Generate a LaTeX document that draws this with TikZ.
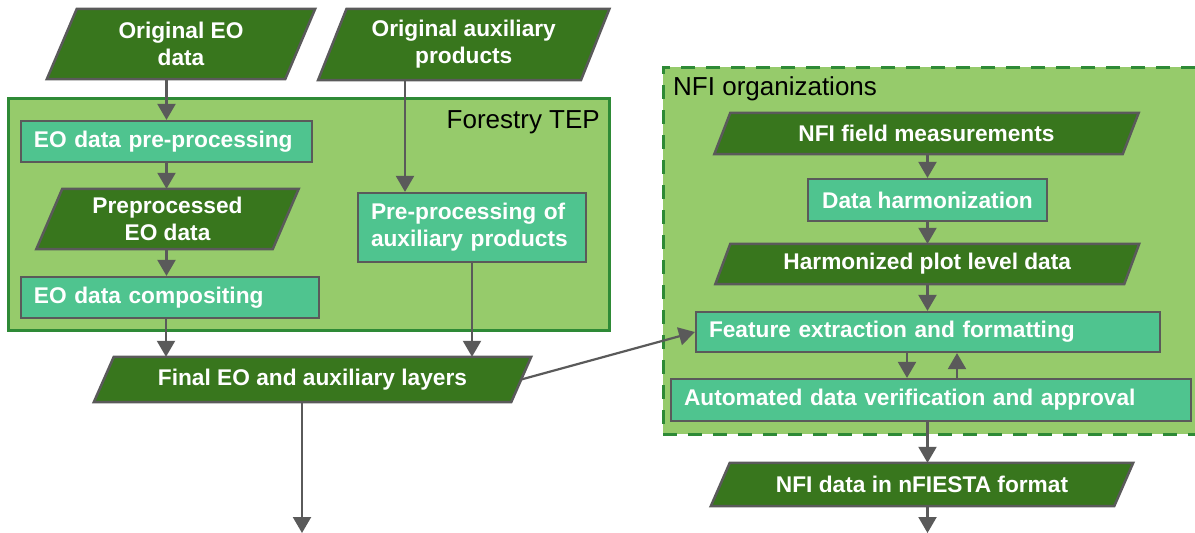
\documentclass[tikz,border=0pt]{standalone}
\usepackage{fontspec}
\setmainfont{Liberation Sans}
\usetikzlibrary{arrows.meta,calc,backgrounds}
\pgfdeclarelayer{bg}
\pgfdeclarelayer{mid}
\pgfsetlayers{bg,mid,main}
\definecolor{lgreen}{HTML}{96CB6B}
\definecolor{dgreen}{HTML}{38761D}
\definecolor{frame}{HTML}{2E8A36}
\definecolor{teal}{HTML}{4FC48F}
\definecolor{gline}{HTML}{5A5A5A}
\tikzset{
  bfont/.style={font=\fontsize{22.7pt}{27pt}\selectfont\bfseries, text=white},
  lfont/.style={font=\fontsize{26pt}{30pt}\selectfont, text=black},
  paranode/.style={bfont, inner sep=0pt, align=center},
  parashape/.style={fill=dgreen, draw=gline, line width=2.5pt, line join=miter},
  tbox/.style={bfont, rectangle, fill=teal, draw=gline, line width=2.2pt, inner xsep=13pt, inner ysep=0pt, align=left},
  outerbox/.style={rectangle, fill=lgreen, inner sep=0pt},
  arr/.style={draw=gline, line width=2.2pt, -{Triangle[width=18pt,length=16pt]}}
}
\newcommand{\drawpara}[2]{%
  \begin{pgfonlayer}{mid}
  \draw[parashape] ($(#1.north west)+(#2,0)$) -- ($(#1.north east)+(#2,0)$) -- ($(#1.south east)-(#2,0)$) -- ($(#1.south west)-(#2,0)$) -- cycle;
  \end{pgfonlayer}}
\begin{document}
\begin{tikzpicture}[x=1pt,y=-1pt]
\useasboundingbox (0,0) rectangle (1195,533);
% outer boxes
\begin{pgfonlayer}{bg}
\node[outerbox, draw=frame, line width=3pt, minimum width=601pt, minimum height=232pt] (tep) at (308.5,214) {};
\node[outerbox, draw=frame, line width=3pt, dash pattern=on 14pt off 11pt, minimum width=545pt, minimum height=367pt] (nfi) at (935.5,250.5) {};
\end{pgfonlayer}
\node[lfont, anchor=east, inner sep=0pt] (teplabel) at (600,122) {Forestry TEP};
\node[lfont, anchor=west, inner sep=0pt] (nfilabel) at (673,89) {NFI organizations};
% parallelograms
\node[paranode, minimum width=238pt, minimum height=70pt] (origeo) at (181,44) {Original EO\\data};
\drawpara{origeo}{15}
\node[paranode, minimum width=262.5pt, minimum height=71pt] (origaux) at (463.75,44.5) {Original auxiliary\\products};
\drawpara{origaux}{14.25}
\node[paranode, minimum width=236pt, minimum height=60pt] (prep) at (167.5,219) {Preprocessed\\EO data};
\drawpara{prep}{13}
\node[paranode, minimum width=417pt, minimum height=45pt] (fin) at (312.5,379.5) {Final EO and auxiliary layers};
\drawpara{fin}{10}
\node[paranode, minimum width=408pt, minimum height=41pt] (nfif) at (926.5,133.5) {NFI field measurements};
\drawpara{nfif}{8}
\node[paranode, minimum width=408.5pt, minimum height=40pt] (harm) at (927.25,264) {Harmonized plot level data};
\drawpara{harm}{7.5}
\node[paranode, minimum width=403pt, minimum height=43pt] (nfid) at (922,484.5) {NFI data in nFIESTA format};
\drawpara{nfid}{9.5}
% process boxes
\node[tbox, text width=265pt, minimum height=41pt] (eopre) at (166.5,141.5) {EO data pre-processing};
\node[tbox, text width=272pt, minimum height=41pt] (comp) at (170,297.5) {EO data compositing};
\node[tbox, text width=202pt, minimum height=69pt] (preaux) at (472,227.5) {Pre-processing of\\auxiliary products};
\node[tbox, align=center, inner xsep=0pt, minimum width=239pt, minimum height=42pt] (dh) at (927.5,200) {Data harmonization};
\node[tbox, text width=438pt, minimum height=40pt] (feat) at (928,332) {Feature extraction and formatting};
\node[tbox, text width=494pt, minimum height=42pt] (auto) at (931,400) {Automated data verification and approval};
% free ends
\coordinate (finend) at (302,533);
\coordinate (nfiend) at (927.5,533);
% connectors left
\draw[arr] (origeo.south -| eopre.north) -- (eopre.north);
\draw[arr] (eopre.south) -- (eopre.south |- prep.north);
\draw[arr] (prep.south -| eopre.south) -- (eopre.south |- comp.north);
\draw[arr] ([xshift=-58.75pt]origaux.south) -- ([xshift=-58.75pt]origaux.south |- preaux.north);
\draw[arr] ([xshift=-4pt]comp.south) -- ([xshift=-4pt]comp.south |- fin.north);
\draw[arr] (preaux.south) -- (preaux.south |- fin.north);
\draw[arr] ([xshift=-10.5pt]fin.south) -- (finend);
\draw[arr] (fin.east) -- (feat.west);
% connectors right
\draw[arr] (nfif.south -| dh.north) -- (dh.north);
\draw[arr] (dh.south) -- (dh.south |- harm.north);
\draw[arr] (harm.south -| dh.south) -- (dh.south |- feat.north);
\draw[arr] ([xshift=-21pt]feat.south) -- ([xshift=-21pt]feat.south |- auto.north);
\draw[arr] ([xshift=29pt]feat.south |- auto.north) -- ([xshift=29pt]feat.south);
\draw[arr] (auto.south -| dh.south) -- (dh.south |- nfid.north);
\draw[arr] (nfid.south -| dh.south) -- (nfiend);
\end{tikzpicture}
\end{document}
